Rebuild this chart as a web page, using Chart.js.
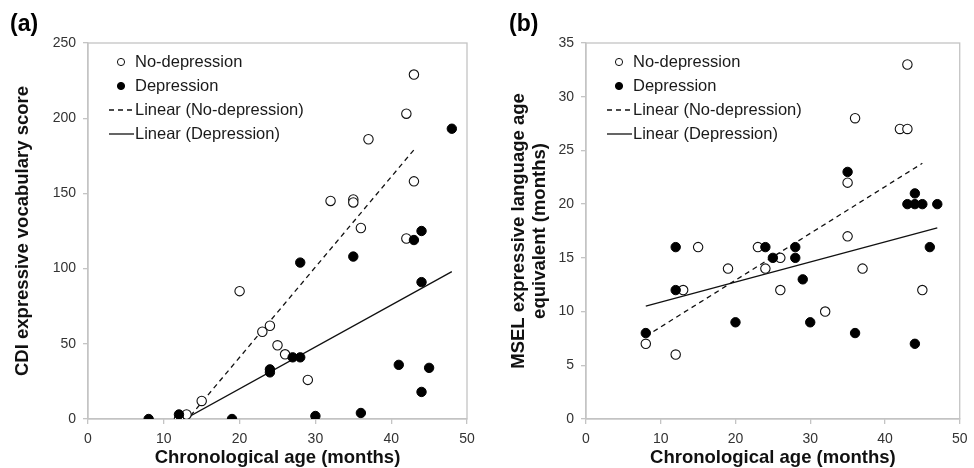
<!DOCTYPE html>
<html>
<head>
<meta charset="utf-8">
<script src="https://cdn.jsdelivr.net/npm/chart.js@4.4.1/dist/chart.umd.min.js"></script>
<style>
  html, body { margin: 0; padding: 0; background: #fff; }
  .wrap { display: flex; width: 974px; height: 468px; }
  .panel { position: relative; width: 487px; height: 468px; }
</style>
</head>
<body>
<div class="wrap">
  <div class="panel"><canvas id="chart_a"></canvas></div>
  <div class="panel"><canvas id="chart_b"></canvas></div>
</div>
<script>
// (a) CDI expressive vocabulary score vs age
const agesNoDepA = [43, 42, 37, 43, 32, 35, 35, 36, 42, 20, 23, 24, 25, 26, 29, 15, 13, 12];
const cdiNoDep   = [229, 203, 186, 158, 145, 146, 144, 127, 120, 85, 58, 62, 49, 43, 26, 12, 3, 0];
const agesDepA   = [48, 44, 43, 35, 28, 44, 27, 28, 24, 24, 41, 45, 44, 30, 36, 8, 19, 12];
const cdiDep     = [193, 125, 119, 108, 104, 91, 41, 41, 33, 31, 36, 34, 18, 2, 4, 0, 0, 3];
// trend line ends
const trendNoDepA = { x: [12, 43], y: [-7, 179] };
const trendDepA   = { x: [8, 48], y: [-13.3, 98] };

// (b) MSEL expressive language age equivalent vs age
const agesNoDepB = [43, 36, 42, 43, 35, 35, 15, 23, 19, 24, 26, 26, 13, 37, 45, 32, 8, 12];
const mselNoDep  = [33, 28, 27, 27, 22, 17, 16, 16, 14, 14, 15, 12, 12, 14, 12, 10, 7, 6];
const agesDepB   = [35, 44, 43, 44, 45, 47, 12, 12, 24, 25, 28, 28, 29, 20, 30, 8, 36, 44, 46];
const mselDep    = [23, 21, 20, 20, 20, 20, 16, 12, 16, 15, 16, 15, 13, 9, 9, 8, 8, 7, 16];
const trendNoDepB = { x: [8, 45], y: [7.7, 23.8] };
const trendDepB   = { x: [8, 47], y: [10.5, 17.8] };

const legendLabels = ['No-depression', 'Depression', 'Linear (No-depression)', 'Linear (Depression)'];
const xTitle = 'Chronological age (months)';

const FONT = '"Liberation Sans", Arial, sans-serif';
const toPoints = (xs, ys) => xs.map((x, i) => ({ x: x, y: ys[i] }));

// frame around the plot area + legend drawn inside it
const frameAndLegend = {
    id: 'frameAndLegend',
    beforeDatasetsDraw(chart) {
        const { ctx, chartArea: a } = chart;
        ctx.save();
        ctx.strokeStyle = '#c4c4c4';
        ctx.lineWidth = 1.3;
        ctx.strokeRect(a.left, a.top, a.right - a.left, a.bottom - a.top);
        ctx.restore();
    },
    afterDatasetsDraw(chart) {
        const { ctx, chartArea: a } = chart;
        ctx.save();
        ctx.font = '16.5px ' + FONT;
        ctx.textBaseline = 'middle';
        chart.data.datasets.forEach((ds, i) => {
            const y = a.top + 19 + i * 24;
            if (ds.showLine) {
                ctx.strokeStyle = ds.borderColor;
                ctx.lineWidth = ds.borderWidth;
                ctx.setLineDash(ds.borderDash || []);
                ctx.beginPath();
                ctx.moveTo(a.left + 21, y);
                ctx.lineTo(a.left + 46, y);
                ctx.stroke();
                ctx.setLineDash([]);
            } else {
                ctx.beginPath();
                ctx.arc(a.left + 33, y, 3.6, 0, Math.PI * 2);
                ctx.fillStyle = ds.backgroundColor;
                ctx.fill();
                ctx.strokeStyle = ds.borderColor;
                ctx.lineWidth = 1;
                ctx.stroke();
            }
            ctx.fillStyle = '#1a1a1a';
            ctx.fillText(ds.label, a.left + 47, y);
        });
        ctx.restore();
    }
};

function makeChart(id, p) {
    const ctx = document.getElementById(id).getContext('2d');
    return new Chart(ctx, {
        type: 'scatter',
        data: {
            datasets: [
                {
                    label: legendLabels[0],
                    data: toPoints(p.noDepX, p.noDepY),
                    backgroundColor: '#ffffff',
                    borderColor: '#111111',
                    borderWidth: 1.1,
                    pointRadius: 4.7,
                    order: 1
                },
                {
                    label: legendLabels[1],
                    data: toPoints(p.depX, p.depY),
                    backgroundColor: '#000000',
                    borderColor: '#000000',
                    borderWidth: 1,
                    pointRadius: 4.7,
                    order: 0
                },
                {
                    label: legendLabels[2],
                    data: toPoints(p.trendNoDep.x, p.trendNoDep.y),
                    showLine: true,
                    borderColor: '#111111',
                    borderWidth: 1.3,
                    borderDash: [5, 4],
                    pointRadius: 0,
                    order: 2
                },
                {
                    label: legendLabels[3],
                    data: toPoints(p.trendDep.x, p.trendDep.y),
                    showLine: true,
                    borderColor: '#111111',
                    borderWidth: 1.3,
                    pointRadius: 0,
                    order: 3
                }
            ]
        },
        options: {
            responsive: true,
            maintainAspectRatio: false,
            animation: false,
            layout: { padding: { left: p.padLeft, right: p.padRight, top: 0, bottom: 0 } },
            plugins: {
                legend: { display: false },
                tooltip: { enabled: false },
                title: {
                    display: true,
                    text: p.panel,
                    align: 'start',
                    color: '#000',
                    font: { family: FONT, size: 23, weight: 'bold', lineHeight: 1.2 },
                    padding: { top: 11.2, bottom: 4.2 }
                }
            },
            scales: {
                x: {
                    type: 'linear',
                    min: 0,
                    max: 50,
                    ticks: { stepSize: 10, color: '#333', padding: 6.5, font: { family: FONT, size: 14 } },
                    grid: { drawOnChartArea: false, tickLength: 5, color: '#c4c4c4', lineWidth: 1.3 },
                    border: { display: true, color: '#c4c4c4', width: 1.3 },
                    title: {
                        display: true,
                        text: xTitle,
                        color: '#111',
                        font: { family: FONT, size: 18.5, weight: 'bold', lineHeight: 1.0 },
                        padding: { top: 0, bottom: 0.8 }
                    },
                    afterFit: (s) => { s.height = 49; }
                },
                y: {
                    type: 'linear',
                    min: 0,
                    max: p.yMax,
                    ticks: { stepSize: p.yStep, color: '#333', padding: 7, font: { family: FONT, size: 14 } },
                    grid: { drawOnChartArea: false, tickLength: 5, color: '#c4c4c4', lineWidth: 1.3 },
                    border: { display: true, color: '#c4c4c4', width: 1.3 },
                    title: {
                        display: true,
                        text: p.yTitle,
                        color: '#111',
                        font: { family: FONT, size: 18.5, weight: 'bold', lineHeight: 1.1 },
                        padding: { top: p.yTitlePad, bottom: 0 }
                    },
                    afterFit: (s) => { s.width = p.yWidth; }
                }
            }
        },
        plugins: [frameAndLegend]
    });
}

makeChart('chart_a', {
    panel: '(a)',
    noDepX: agesNoDepA, noDepY: cdiNoDep,
    depX: agesDepA, depY: cdiDep,
    trendNoDep: trendNoDepA, trendDep: trendDepA,
    yMax: 250, yStep: 50,
    yTitle: 'CDI expressive vocabulary score',
    yTitlePad: 3,
    padLeft: 10, padRight: 20, yWidth: 78
});

makeChart('chart_b', {
    panel: '(b)',
    noDepX: agesNoDepB, noDepY: mselNoDep,
    depX: agesDepB, depY: mselDep,
    trendNoDep: trendNoDepB, trendDep: trendDepB,
    yMax: 35, yStep: 5,
    yTitle: ['MSEL expressive language age', 'equivalent (months)'],
    yTitlePad: 0,
    padLeft: 22, padRight: 10, yWidth: 77
});
</script>
</body>
</html>
